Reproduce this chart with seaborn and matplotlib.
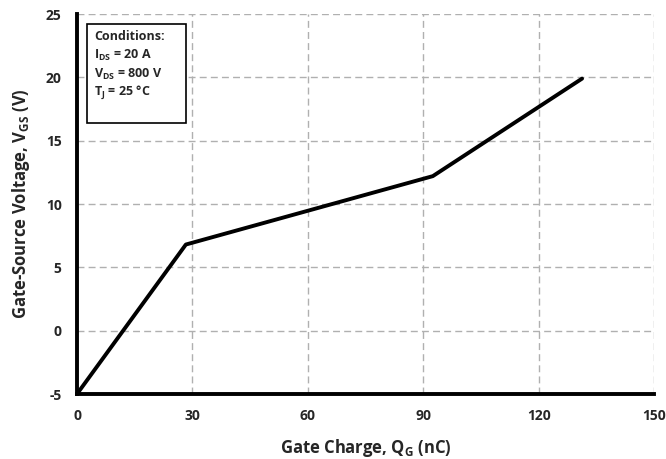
import matplotlib
matplotlib.use("Agg")
import matplotlib.pyplot as plt
import seaborn as sns
import pandas as pd
from matplotlib.patches import Rectangle

# Data
gate_charge_nc = [0, 28.3, 92.5, 131.3]
gate_voltage_v = [-5, 6.8, 12.2, 19.9]
x_ticks = [0, 30, 60, 90, 120, 150]
y_ticks = [-5, 0, 5, 10, 15, 20, 25]
conditions = ["Conditions:", r"I$_{DS}$ = 20 A", r"V$_{DS}$ = 800 V", r"T$_{J}$ = 25 °C"]

sns.set_theme(style="white")
FAM = "Open Sans"
plt.rcParams["font.family"] = [FAM, "DejaVu Sans"]
plt.rcParams["font.weight"] = "bold"
plt.rcParams["mathtext.fontset"] = "custom"
plt.rcParams["mathtext.bf"] = FAM + ":bold"
plt.rcParams["mathtext.rm"] = FAM + ":bold"
plt.rcParams["mathtext.it"] = FAM + ":bold"
plt.rcParams["mathtext.default"] = "bf"

df = pd.DataFrame({"Qg": gate_charge_nc, "Vgs": gate_voltage_v})

fig = plt.figure(figsize=(6.66, 4.59), dpi=100)
ax = fig.add_axes([77/666, 1-394/459, (654-77)/666, (394-14)/459])

sns.lineplot(data=df, x="Qg", y="Vgs", ax=ax, color="black", linewidth=2.8, sort=False)

ax.set_xlim(0, 150)
ax.set_ylim(-5, 25)
ax.set_xticks(x_ticks)
ax.set_yticks(y_ticks)
ax.set_xticklabels([str(t) for t in x_ticks], fontsize=10, fontweight="bold")
ax.set_yticklabels([str(t) for t in y_ticks], fontsize=10, fontweight="bold")
ax.grid(True, color="#b0b0b0", linestyle=(0, (5, 3)), linewidth=1)
for s in ["top", "right"]:
    ax.spines[s].set_visible(False)
for s in ["left", "bottom"]:
    ax.spines[s].set_linewidth(2.8)
    ax.spines[s].set_color("black")
ax.tick_params(axis="both", direction="out", length=4, width=2, color="black", pad=7)

ax.set_xlabel(r"Gate Charge, Q$_{G}$ (nC)", fontsize=12, fontweight="bold", labelpad=10)
ax.set_ylabel(r"Gate-Source Voltage, V$_{GS}$ (V)", fontsize=12, fontweight="bold", labelpad=10)

# conditions box
rect = Rectangle((87/666, 1-123/459), (186-87)/666, (123-24)/459, transform=fig.transFigure,
                 fill=True, facecolor="white", edgecolor="black", linewidth=1.2, zorder=5)
fig.patches.append(rect)
for i, line in enumerate(conditions):
    fig.text(94/666, 1-(36+19*i)/459, line, fontsize=9, fontweight="bold", va="center", ha="left", zorder=6)

fig.savefig("out.png", dpi=100)
